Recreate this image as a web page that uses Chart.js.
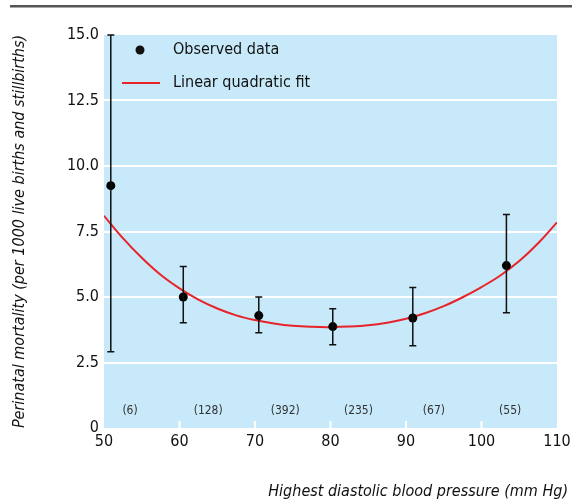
<!DOCTYPE html>
<html>
<head>
<meta charset="utf-8">
<script src="https://cdn.jsdelivr.net/npm/chart.js@4.4.1/dist/chart.umd.min.js"></script>
<style>
html,body{margin:0;padding:0;background:#fff;}
#wrap{width:572px;height:502px;position:relative;}
</style>
</head>
<body>
<div id="wrap"><canvas id="c"></canvas></div>
<script>
// ---- data ----
const pointX = [50.9, 60.5, 70.5, 80.3, 90.9, 103.3];
const pointY = [9.25, 5.0, 4.29, 3.87, 4.2, 6.2];
const errHigh = [15.0, 6.16, 5.0, 4.55, 5.36, 8.15];
const errLow = [2.91, 4.02, 3.64, 3.18, 3.14, 4.4];
const fitX = [50, 52.5, 55, 57.5, 60, 62.5, 65, 67.5, 70, 72.5, 75, 77.5, 80, 82.5, 85, 87.5, 90, 92.5, 95, 97.5, 100, 102.5, 105, 107.5, 110];
const fitY = [8.1, 7.25, 6.5, 5.85, 5.33, 4.9, 4.56, 4.3, 4.12, 3.99, 3.9, 3.86, 3.85, 3.87, 3.92, 4.02, 4.17, 4.38, 4.65, 4.99, 5.38, 5.82, 6.37, 7.05, 7.85];
const countLabels = ['(6)', '(128)', '(392)', '(235)', '(67)', '(55)'];
const countX = [53.45, 63.8, 74.0, 83.7, 93.7, 103.8];
const xTicks = [50, 60, 70, 80, 90, 100, 110];
const yTicks = [0, 2.5, 5.0, 7.5, 10.0, 12.5, 15.0];
const xTitle = 'Highest diastolic blood pressure (mm Hg)';
const yTitle = 'Perinatal mortality (per 1000 live births and stillbirths)';

const FONT = '"Liberation Sans Narrow", "DejaVu Sans Condensed", "Roboto", sans-serif';
const BLUE = '#c7e9f9';
const RED = '#e8232a';

const bgPlugin = {
  id: 'bg',
  beforeDraw(chart) {
    const {ctx, chartArea: a} = chart;
    ctx.save();
    ctx.fillStyle = BLUE;
    ctx.fillRect(a.left, a.top, a.right - a.left, a.bottom - a.top);
    ctx.fillStyle = '#555';
    ctx.fillRect(10, 5, 562, 2.5);
    ctx.restore();
  },
  afterDraw(chart) {
    const {ctx, chartArea: a, scales} = chart;
    const xs = scales.x, ys = scales.y;
    ctx.save();
    ctx.strokeStyle = '#fff';
    ctx.lineWidth = 2;
    xTicks.forEach(v => {
      if (v === xs.min || v === xs.max) return;
      const px = xs.getPixelForValue(v);
      ctx.beginPath();
      ctx.moveTo(px, a.bottom - 7);
      ctx.lineTo(px, a.bottom);
      ctx.stroke();
    });
    ctx.fillStyle = '#333';
    ctx.font = '12px ' + FONT;
    ctx.textAlign = 'center';
    ctx.textBaseline = 'middle';
    countLabels.forEach((t, i) => {
      ctx.fillText(t, xs.getPixelForValue(countX[i]), ys.getPixelForValue(0.65));
    });
    ctx.fillStyle = '#111';
    ctx.font = 'italic 16px ' + FONT;
    ctx.textAlign = 'right';
    ctx.textBaseline = 'middle';
    ctx.fillText(xTitle, 568, 492);
    const ds = chart.data.datasets;
    ctx.font = '16px ' + FONT;
    ctx.textAlign = 'left';
    ctx.fillStyle = '#111';
    ctx.beginPath();
    ctx.arc(140, 50, 4.5, 0, Math.PI * 2);
    ctx.fill();
    ctx.fillText(ds[1].label, 173, 50);
    ctx.strokeStyle = RED;
    ctx.lineWidth = 2;
    ctx.beginPath();
    ctx.moveTo(122, 83);
    ctx.lineTo(160, 83);
    ctx.stroke();
    ctx.fillText(ds[0].label, 173, 83);
    ctx.restore();
  }
};

const errPlugin = {
  id: 'err',
  afterDatasetsDraw(chart) {
    const {ctx, scales} = chart;
    const xs = scales.x, ys = scales.y;
    ctx.save();
    ctx.strokeStyle = '#111';
    ctx.lineWidth = 1.5;
    pointX.forEach((x, i) => {
      const px = xs.getPixelForValue(x);
      const hi = ys.getPixelForValue(errHigh[i]);
      const lo = ys.getPixelForValue(errLow[i]);
      ctx.beginPath();
      ctx.moveTo(px, hi); ctx.lineTo(px, lo);
      ctx.moveTo(px - 3.5, hi); ctx.lineTo(px + 3.5, hi);
      ctx.moveTo(px - 3.5, lo); ctx.lineTo(px + 3.5, lo);
      ctx.stroke();
    });
    ctx.restore();
  }
};

new Chart(document.getElementById('c'), {
  type: 'scatter',
  data: {
    datasets: [
      {
        label: 'Linear quadratic fit',
        data: fitX.map((x, i) => ({x: x, y: fitY[i]})),
        showLine: true,
        borderColor: RED,
        borderWidth: 2,
        pointRadius: 0,
        tension: 0.4,
        order: 2
      },
      {
        label: 'Observed data',
        data: pointX.map((x, i) => ({x: x, y: pointY[i]})),
        pointRadius: 4.5,
        pointBackgroundColor: '#000',
        pointBorderColor: '#000',
        pointBorderWidth: 0,
        order: 1
      }
    ]
  },
  options: {
    responsive: true,
    maintainAspectRatio: false,
    animation: false,
    devicePixelRatio: 1,
    layout: {padding: {top: 35, right: 15, bottom: 0, left: 0}},
    plugins: {legend: {display: false}, tooltip: {enabled: false}},
    scales: {
      x: {
        type: 'linear',
        min: 50, max: 110,
        afterBuildTicks: s => { s.ticks = xTicks.map(v => ({value: v})); },
        afterFit: s => { s.height = 74; s.paddingRight = 0; s.paddingLeft = 0; },
        grid: {display: false, drawTicks: false},
        border: {display: false},
        ticks: {color: '#111', font: {family: FONT, size: 16}, padding: 4, maxRotation: 0}
      },
      y: {
        type: 'linear',
        min: 0, max: 15,
        afterBuildTicks: s => { s.ticks = yTicks.map(v => ({value: v})); },
        afterFit: s => { s.width = 104; },
        grid: {
          drawTicks: false,
          lineWidth: 2,
          color: c => (c.tick && (c.tick.value === 0 || c.tick.value === 15)) ? 'rgba(0,0,0,0)' : '#ffffff'
        },
        border: {display: false},
        ticks: {
          color: '#111', font: {family: FONT, size: 16}, padding: 5,
          callback: v => v === 0 ? '0' : v.toFixed(1)
        },
        title: {
          display: true, text: yTitle, color: '#111',
          font: {family: FONT, size: 16, style: 'italic'},
          padding: {top: 10, bottom: 0}
        }
      }
    }
  },
  plugins: [bgPlugin, errPlugin]
});
</script>
</body>
</html>
